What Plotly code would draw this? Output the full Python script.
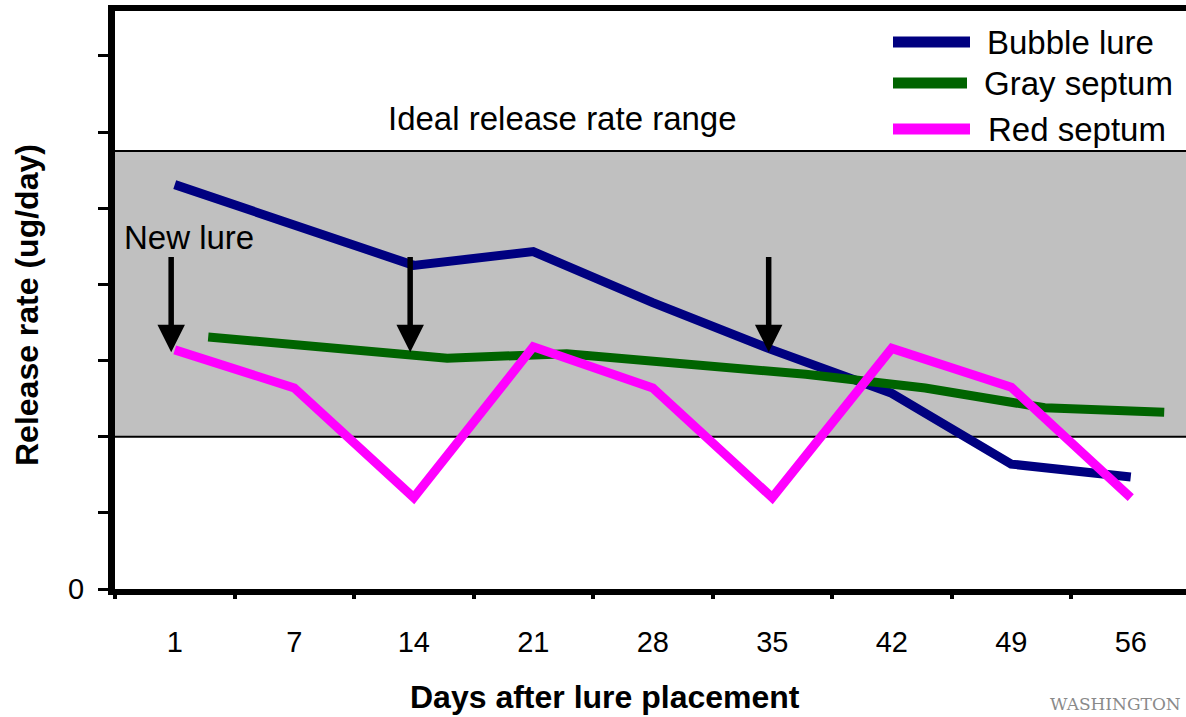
import plotly.graph_objects as go

# ---------------- data ----------------
days = ["1", "7", "14", "21", "28", "35", "42", "49", "56"]
bubble_lure = [5.31, 4.78, 4.25, 4.43, 3.76, 3.14, 2.57, 1.64, 1.47]
gray_septum = [3.31, 3.18, 3.03, 3.09, 2.95, 2.82, 2.64, 2.38, 2.32]
red_septum = [3.14, 2.64, 1.20, 3.18, 2.64, 1.20, 3.16, 2.65, 1.20]
series_names = ["Bubble lure", "Gray septum", "Red septum"]
series_colors = ["#000080", "#006400", "#FF00FF"]
gray_x_offset = 0.28          # gray septum points sit slightly right of the day ticks
ideal_range = [2.0, 5.75]     # ideal release-rate band
new_lure_days = ["1", "14", "35"]
arrow_tip_value = 3.11
arrow_tail_value = 4.38
y_tick_values = [0, 1, 2, 3, 4, 5, 6, 7]
y_tick_text = ["0", "", "", "", "", "", "", ""]

# ---------------- layout helpers ----------------
W, H = 1186, 717
ML, MR, MT, MB = 115, 0, 11, 128
PW, PH = W - ML - MR, H - MT - MB
FONT = "Liberation Sans, Arial, sans-serif"


def px_x(px):
    return (px - ML) / PW


def px_y(py):
    return (H - MB - py) / PH


idx = list(range(len(days)))
fig = go.Figure()

series_values = [bubble_lure, gray_septum, red_septum]
series_offsets = [0.0, gray_x_offset, 0.0]
for name, vals, col, off in zip(series_names, series_values, series_colors, series_offsets):
    fig.add_trace(go.Scatter(
        x=[i + off for i in idx], y=vals, mode="lines", name=name,
        line=dict(color=col, width=9), showlegend=False, hoverinfo="skip"))

# dummy trace for the boundary-tick axis
fig.add_trace(go.Scatter(x=[None], y=[None], xaxis="x2", yaxis="y",
                         showlegend=False, hoverinfo="skip"))

x_range = [-0.5, -0.5 + PW / 119.5]
y_range = [0, 7.59]

shapes = [
    dict(type="rect", xref="x domain", yref="y", x0=0, x1=1,
         y0=ideal_range[0], y1=ideal_range[1], fillcolor="#C0C0C0",
         line=dict(width=0), layer="below"),
    dict(type="line", xref="x domain", yref="y", x0=0, x1=1,
         y0=ideal_range[0], y1=ideal_range[0], line=dict(color="black", width=2), layer="below"),
    dict(type="line", xref="x domain", yref="y", x0=0, x1=1,
         y0=ideal_range[1], y1=ideal_range[1], line=dict(color="black", width=2), layer="below"),
]

annotations = []
# manual legend
legend_rows = [(42, 893, 970, 985), (83, 893, 967, 982), (129, 893, 970, 986)]
for (py, lx0, lx1, tx), name, col in zip(legend_rows, series_names, series_colors):
    shapes.append(dict(type="line", xref="paper", yref="paper",
                       x0=px_x(lx0), x1=px_x(lx1), y0=px_y(py), y1=px_y(py),
                       line=dict(color=col, width=11)))
    annotations.append(dict(xref="paper", yref="paper", x=px_x(tx), y=px_y(py),
                            text=name, showarrow=False, xanchor="left", yanchor="middle",
                            font=dict(family=FONT, size=33, color="black")))

# new-lure arrows
for d in new_lure_days:
    i = days.index(d)
    annotations.append(dict(x=i - 0.03, y=arrow_tip_value, ax=i - 0.03, ay=arrow_tail_value,
                            xref="x", yref="y", axref="x", ayref="y", text="",
                            showarrow=True, arrowhead=2, arrowsize=1.0, arrowwidth=5.5,
                            arrowcolor="black"))

annotations += [
    dict(xref="paper", yref="paper", x=px_x(122), y=px_y(237), text="New lure",
         showarrow=False, xanchor="left", yanchor="middle",
         font=dict(family=FONT, size=33, color="black")),
    dict(xref="paper", yref="paper", x=px_x(562), y=px_y(119), text="Ideal release rate range",
         showarrow=False, xanchor="center", yanchor="middle",
         font=dict(family=FONT, size=33, color="black")),
    dict(xref="paper", yref="paper", x=px_x(605), y=px_y(697), text="<b>Days after lure placement</b>",
         showarrow=False, xanchor="center", yanchor="middle",
         font=dict(family=FONT, size=32, color="black")),
    dict(xref="paper", yref="paper", x=px_x(27), y=px_y(305), text="<b>Release rate (ug/day)</b>",
         showarrow=False, xanchor="center", yanchor="middle", textangle=-90,
         font=dict(family=FONT, size=32, color="black")),
    dict(xref="paper", yref="paper", x=px_x(1183), y=px_y(704), text="WASHINGTON",
         showarrow=False, xanchor="right", yanchor="middle",
         font=dict(family="DejaVu Serif, serif", size=17, color="#8a8a8a")),
]

fig.update_layout(
    width=W, height=H, autosize=False,
    margin=dict(l=ML, r=MR, t=MT, b=MB, pad=0),
    paper_bgcolor="white", plot_bgcolor="white",
    font=dict(family=FONT, color="black"),
    showlegend=False,
    xaxis=dict(range=x_range, tickvals=idx, ticktext=days, ticks="",
               showgrid=False, zeroline=False, showline=True, linewidth=6,
               linecolor="black", mirror=True, ticklabelstandoff=22,
               tickfont=dict(family=FONT, size=29, color="black")),
    xaxis2=dict(range=x_range, overlaying="x", anchor="y", side="bottom",
                tickvals=[i - 0.5 for i in idx], ticks="outside", ticklen=9,
                tickwidth=4, tickcolor="black", showticklabels=False,
                showgrid=False, zeroline=False, showline=False),
    yaxis=dict(range=y_range, tickvals=y_tick_values, ticktext=y_tick_text,
               ticks="outside", ticklen=10, tickwidth=3, tickcolor="black",
               showgrid=False, zeroline=False, showline=True, linewidth=7,
               linecolor="black", ticklabelstandoff=8,
               tickfont=dict(family=FONT, size=29, color="black")),
    shapes=shapes,
    annotations=annotations,
)

fig.write_html("out.html", config={"displayModeBar": False},
               post_script="document.body.style.margin='0';document.body.style.overflow='hidden';")
